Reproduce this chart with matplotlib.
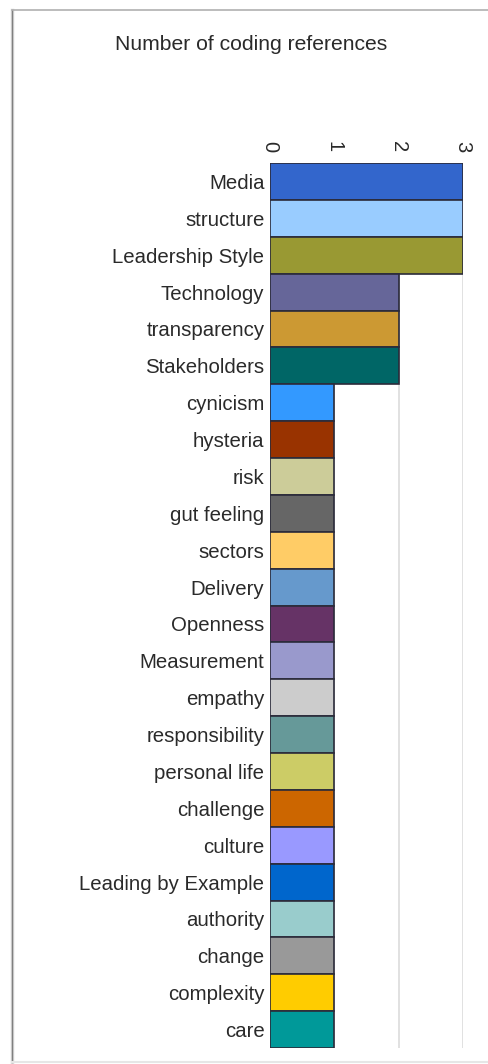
import matplotlib
matplotlib.use("Agg")
import matplotlib.pyplot as plt
from matplotlib.lines import Line2D

plt.rcParams['font.family'] = ['Liberation Sans', 'DejaVu Sans']

categories = [
    "Media", "structure", "Leadership Style", "Technology", "transparency",
    "Stakeholders", "cynicism", "hysteria", "risk", "gut feeling", "sectors",
    "Delivery", "Openness", "Measurement", "empathy", "responsibility",
    "personal life", "challenge", "culture", "Leading by Example",
    "authority", "change", "complexity", "care",
]
references = [3, 3, 3, 2, 2, 2, 1, 1, 1, 1, 1, 1, 1, 1, 1, 1, 1, 1, 1, 1, 1, 1, 1, 1]
bar_colors = [
    "#3366CC", "#99CCFF", "#999933", "#666699", "#CC9933", "#006666",
    "#3399FF", "#993300", "#CCCC99", "#666666", "#FFCC66", "#6699CC",
    "#663366", "#9999CC", "#CCCCCC", "#669999", "#CCCC66", "#CC6600",
    "#9999FF", "#0066CC", "#99CCCC", "#999999", "#FFCC00", "#009999",
]
tick_values = [0, 1, 2, 3]
title = "Number of coding references"

W, H = 489, 1064
fig = plt.figure(figsize=(W / 100, H / 100), dpi=100)
fig.patch.set_facecolor("white")

ax = fig.add_axes([270 / W, 1 - 1048 / H, (463 - 270) / W, (1048 - 163) / H])
y = list(range(len(categories)))
ax.barh(y, references, height=1.0, color=bar_colors, edgecolor="#2b2b3a",
        linewidth=1.2, zorder=3)
ax.set_ylim(len(categories) - 0.5, -0.5)
ax.set_xlim(0, 3)
ax.set_yticks(y)
ax.set_yticklabels(categories, fontsize=14.7, color="#2a2a2a")
ax.set_xticks(tick_values)
ax.set_xticklabels([str(v) for v in tick_values], rotation=-90, fontsize=14.5,
                   color="#2a2a2a")
ax.xaxis.tick_top()
ax.tick_params(axis="both", length=0)
ax.tick_params(axis="y", pad=4)
ax.tick_params(axis="x", pad=8)
for s in ax.spines.values():
    s.set_visible(False)
ax.grid(axis="x", color="#dcdcdc", linewidth=1.2, zorder=0)
ax.set_axisbelow(True)

fig.text(251 / W, 1 - 45 / H, title, ha="center", va="center",
         fontsize=15.2, color="#2a2a2a")

# frame around the chart
fig.add_artist(Line2D([12.5 / W, 12.5 / W], [1 - 10 / H, 1 - 1062 / H],
                      color="#dcdcdc", linewidth=2.5, transform=fig.transFigure))
fig.add_artist(Line2D([12 / W, 12 / W], [1 - 10 / H, 1 - 1062 / H],
                      color="#808080", linewidth=1.0, transform=fig.transFigure))
fig.add_artist(Line2D([12 / W, 1], [1 - 10 / H, 1 - 10 / H],
                      color="#b0b0b0", linewidth=1.2, transform=fig.transFigure))
fig.add_artist(Line2D([12 / W, 1], [1 - 1062 / H, 1 - 1062 / H],
                      color="#e6e6e6", linewidth=1.5, transform=fig.transFigure))

fig.savefig("out.png", dpi=100, facecolor="white")
